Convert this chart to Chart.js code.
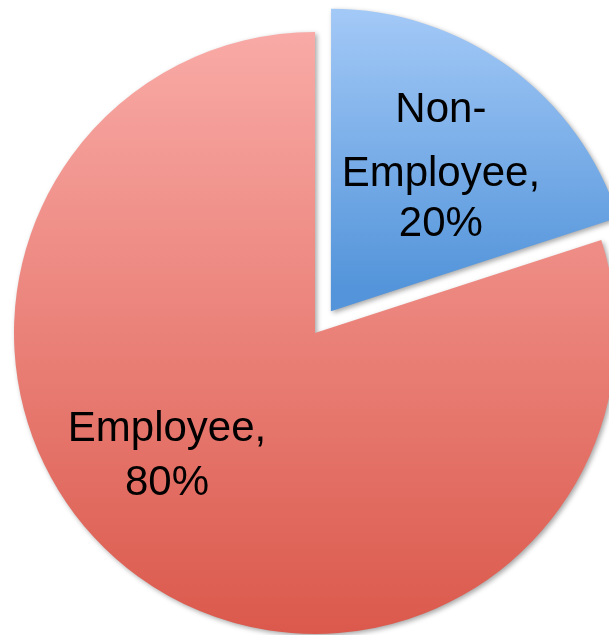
<!DOCTYPE html>
<html>
<head>
<meta charset="utf-8">
<script src="https://cdn.jsdelivr.net/npm/chart.js@4/dist/chart.umd.min.js"></script>
<style>
  html, body { margin: 0; padding: 0; background: #ffffff; overflow: hidden; width: 609px; height: 635px; }
  #wrap { position: absolute; left: 0; top: 0; width: 630px; height: 666px; }
</style>
</head>
<body>
<div id="wrap"><canvas id="c" width="630" height="666"></canvas></div>
<script>
// ---- data ----
const categories = ['Non-Employee', 'Employee'];
const values = [20, 80];

// ---- styles ----
const gradientStops = [
  ['#A9CDF9', '#5394DA'],   // Non-Employee: top -> bottom
  ['#F9AAA6', '#DB594C']    // Employee: top -> bottom
];
const sliceShift = [27, 0];            // visible explosion distance in px
const pieRadius = 301;
// label line positions (relative to each slice's apex), per category
const labelLayout = [
  { dx: 110, baselines: [-189, -125, -75] },
  { dx: -148, baselines: [108, 162] }
];

function labelLines(i) {
  const parts = categories[i].split(/(?<=-)/);
  parts[parts.length - 1] += ',';
  return parts.concat([values[i] + '%']);
}

function sliceFill(ctx) {
  const chart = ctx.chart;
  const area = chart.chartArea;
  const i = ctx.dataIndex;
  if (!area || i === undefined) return gradientStops[i || 0][0];
  const cy = (area.top + area.bottom) / 2;
  let top, bottom;
  if (i === 0) {
    const mid = -Math.PI / 2 + Math.PI * values[0] / (values[0] + values[1]);
    const sy = Math.sin(mid) * sliceShift[0];
    top = cy - pieRadius + sy; bottom = cy + sy;
  } else {
    top = cy - pieRadius; bottom = cy + pieRadius;
  }
  const g = chart.ctx.createLinearGradient(0, top, 0, bottom);
  g.addColorStop(0, gradientStops[i][0]);
  g.addColorStop(1, gradientStops[i][1]);
  return g;
}

const shadowPlugin = {
  id: 'sliceShadow',
  beforeDatasetsDraw(chart) {
    const c = chart.ctx;
    c.save();
    c.shadowColor = 'rgba(0,0,0,0.35)';
    c.shadowBlur = 5;
    c.shadowOffsetX = 2;
    c.shadowOffsetY = 2;
  },
  afterDatasetsDraw(chart) {
    chart.ctx.restore();
  }
};

const labelPlugin = {
  id: 'sliceLabels',
  afterDraw(chart) {
    const c = chart.ctx;
    const meta = chart.getDatasetMeta(0);
    c.save();
    c.font = '42px "Liberation Sans", Arial, sans-serif';
    c.fillStyle = '#000000';
    c.textAlign = 'center';
    c.textBaseline = 'alphabetic';
    meta.data.forEach((el, i) => {
      const mid = (el.startAngle + el.endAngle) / 2;
      const off = sliceShift[i];
      const ax = el.x + Math.cos(mid) * off;
      const ay = el.y + Math.sin(mid) * off;
      const lay = labelLayout[i];
      labelLines(i).forEach((t, k) => {
        c.fillText(t, ax + lay.dx, ay + lay.baselines[k]);
      });
    });
    c.restore();
  }
};

new Chart(document.getElementById('c'), {
  type: 'pie',
  data: {
    labels: categories,
    datasets: [{
      data: values,
      backgroundColor: sliceFill,
      borderWidth: 0,
      // Chart.js arc draws offset/4 as the actual shift
      offset: sliceShift.map(s => s * 4),
      hoverOffset: 0
    }]
  },
  options: {
    responsive: false,
    animation: false,
    radius: pieRadius,
    layout: { padding: 0 },
    plugins: {
      legend: { display: false },
      tooltip: { enabled: false }
    },
    events: []
  },
  plugins: [shadowPlugin, labelPlugin]
});
</script>
</body>
</html>
